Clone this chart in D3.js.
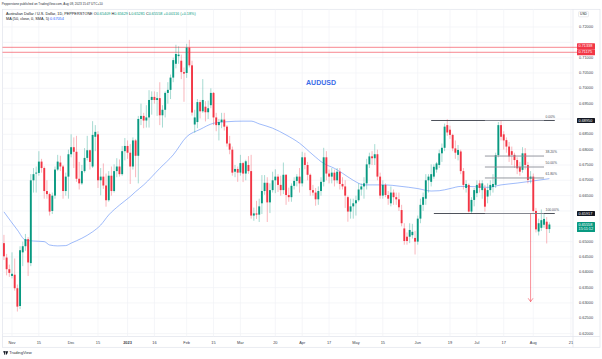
<!DOCTYPE html>
<html><head><meta charset="utf-8">
<script src="https://cdn.jsdelivr.net/npm/d3@7/dist/d3.min.js"></script>
<style>html,body{margin:0;padding:0;background:#fff;overflow:hidden}svg{display:block}</style>
</head><body>
<svg id="chart" width="602" height="359"></svg>
<script>
// ---------- DATA ----------
const startDate = "2022-10-27";
const endAxisDate = "2023-08-23"; // exclusive
const holidays = ["2022-12-26"];
const opens = [0.6495,0.6448,0.6410,0.6388,0.6392,0.6348,0.6290,0.6465,0.6485,0.6508,
0.6430,0.6700,0.6722,0.6724,0.6761,0.6740,0.6665,0.6655,0.6600,0.6650,
0.6735,0.6758,0.6745,0.6665,0.6712,0.6785,0.6808,0.6793,0.6705,0.6690,
0.6730,0.6773,0.6798,0.6745,0.6842,0.6850,0.6700,0.6712,0.6683,0.6635,
0.6715,0.6665,0.6730,0.6745,0.6720,0.6795,0.6812,0.6790,0.6745,0.6830,
0.6780,0.6900,0.6910,0.6895,0.6905,0.6962,0.6972,0.6962,0.6968,0.6912,
0.6930,0.6985,0.6995,0.7035,0.7080,0.7105,0.7090,0.7053,0.7050,0.7133,
0.7075,0.6882,0.6890,0.6955,0.6925,0.6940,0.6922,0.6945,0.6985,0.6905,
0.6880,0.6890,0.6898,0.6875,0.6820,0.6800,0.6728,0.6737,0.6725,0.6756,
0.6722,0.6750,0.6730,0.6585,0.6592,0.6588,0.6625,0.6665,0.6692,0.6628,
0.6668,0.6700,0.6712,0.6685,0.6668,0.6718,0.6652,0.6645,0.6682,0.6698,
0.6712,0.6690,0.6775,0.6750,0.6718,0.6668,0.6660,0.6638,0.6665,0.6695,
0.6775,0.6722,0.6712,0.6725,0.6700,0.6728,0.6688,0.6680,0.6645,0.6598,
0.6615,0.6625,0.6635,0.6670,0.6680,0.6690,0.6752,0.6778,0.6772,0.6785,
0.6712,0.6650,0.6685,0.6652,0.6625,0.6660,0.6645,0.6638,0.6603,0.6543,
0.6516,0.6516,0.6521,0.6512,0.6500,0.6575,0.6620,0.6640,0.6700,0.6695,
0.6712,0.6735,0.6750,0.6788,0.6806,0.6880,0.6865,0.6848,0.6804,0.6783,
0.6794,0.6730,0.6675,0.6685,0.6598,0.6636,0.6658,0.6690,0.6668,0.6674,
0.6647,0.6668,0.6678,0.6685,0.6782,0.6880,0.6850,0.6831,0.6810,0.6795,
0.6783,0.6766,0.6744,0.6734,0.6788,0.6750,0.6705,0.6712,0.6600,0.6533,
0.6545,0.6555,0.6565,0.65409];
const highs = [0.6522,0.6460,0.6425,0.6465,0.6445,0.6360,0.6485,0.6500,0.6525,0.6515,
0.6720,0.6740,0.6745,0.6795,0.6770,0.6745,0.6700,0.6660,0.6660,0.6745,
0.6783,0.6780,0.6750,0.6725,0.6800,0.6850,0.6840,0.6845,0.6760,0.6750,
0.6805,0.6845,0.6800,0.6893,0.6880,0.6860,0.6740,0.6755,0.6722,0.6730,
0.6745,0.6752,0.6772,0.6768,0.6812,0.6838,0.6830,0.6818,0.6840,0.6835,
0.6910,0.6950,0.6920,0.6945,0.6994,0.6990,0.6990,0.6988,0.7020,0.6945,
0.6990,0.7020,0.7045,0.7100,0.7142,0.7137,0.7110,0.7068,0.7145,0.7158,
0.7090,0.6930,0.6965,0.6962,0.7030,0.6958,0.6960,0.7000,0.6988,0.6920,
0.6900,0.6920,0.6920,0.6880,0.6845,0.6810,0.6750,0.6745,0.6783,0.6760,
0.6767,0.6779,0.6783,0.6611,0.6633,0.6640,0.6717,0.6717,0.6710,0.6690,
0.6728,0.6736,0.6720,0.6715,0.6758,0.6720,0.6676,0.6690,0.6710,0.6720,
0.6740,0.6793,0.6790,0.6760,0.6722,0.6685,0.6675,0.6680,0.6710,0.6806,
0.6795,0.6735,0.6740,0.6735,0.6740,0.6740,0.6710,0.6700,0.6650,0.6640,
0.6640,0.6650,0.6690,0.6690,0.6710,0.6770,0.6790,0.6795,0.6818,0.6800,
0.6725,0.6700,0.6690,0.6665,0.6680,0.6670,0.6660,0.6660,0.6620,0.6560,
0.6530,0.6560,0.6558,0.6535,0.6585,0.6640,0.6660,0.6720,0.6720,0.6752,
0.6752,0.6760,0.6800,0.6820,0.6885,0.6899,0.6878,0.6852,0.6830,0.6815,
0.6800,0.6740,0.6700,0.6690,0.6645,0.6675,0.6700,0.6700,0.6700,0.6685,
0.6690,0.6700,0.6720,0.6790,0.6890,0.6895,0.6860,0.6840,0.6825,0.6810,
0.6790,0.6775,0.6760,0.6808,0.6805,0.6760,0.6730,0.6722,0.6610,0.6575,
0.6605,0.6590,0.6580,0.65629];
const lows = [0.6440,0.6390,0.6385,0.6380,0.6340,0.6272,0.6280,0.6420,0.6470,0.6388,
0.6420,0.6660,0.6660,0.6715,0.6725,0.6640,0.6640,0.6585,0.6590,0.6640,
0.6730,0.6730,0.6640,0.6650,0.6640,0.6775,0.6740,0.6695,0.6670,0.6685,
0.6725,0.6765,0.6735,0.6740,0.6795,0.6675,0.6651,0.6672,0.6614,0.6630,
0.6650,0.6660,0.6710,0.6712,0.6715,0.6765,0.6770,0.6688,0.6735,0.6710,
0.6690,0.6880,0.6870,0.6872,0.6872,0.6914,0.6950,0.6910,0.6880,0.6872,
0.6905,0.6950,0.6965,0.7020,0.7065,0.7080,0.7030,0.6956,0.7034,0.7068,
0.6911,0.6855,0.6870,0.6902,0.6920,0.6892,0.6900,0.6935,0.6880,0.6860,
0.6830,0.6870,0.6862,0.6810,0.6785,0.6715,0.6710,0.6695,0.6715,0.6694,
0.6700,0.6721,0.6575,0.6568,0.6574,0.6564,0.6590,0.6653,0.6564,0.6593,
0.6660,0.6658,0.6662,0.6650,0.6655,0.6620,0.6630,0.6630,0.6670,0.6680,
0.6660,0.6680,0.6736,0.6700,0.6650,0.6650,0.6617,0.6620,0.6650,0.6680,
0.6700,0.6690,0.6690,0.6680,0.6690,0.6670,0.6670,0.6610,0.6565,0.6575,
0.6575,0.6585,0.6630,0.6650,0.6640,0.6670,0.6740,0.6750,0.6750,0.6700,
0.6640,0.6640,0.6645,0.6620,0.6615,0.6620,0.6620,0.6600,0.6550,0.6490,
0.6490,0.6495,0.6510,0.6458,0.6490,0.6560,0.6600,0.6620,0.6660,0.6680,
0.6705,0.6725,0.6740,0.6760,0.6795,0.6845,0.6835,0.6795,0.6770,0.6765,
0.6720,0.6670,0.6660,0.6595,0.6590,0.6615,0.6645,0.6660,0.6640,0.6598,
0.6625,0.6650,0.6660,0.6675,0.6775,0.6830,0.6800,0.6790,0.6760,0.6750,
0.6740,0.6720,0.6715,0.6725,0.6735,0.6690,0.6690,0.6595,0.6530,0.6520,
0.6535,0.6545,0.6494,0.65281];
const closes = [0.6452,0.6410,0.6398,0.6395,0.6348,0.6288,0.6472,0.6485,0.6508,0.6432,
0.6700,0.6720,0.6725,0.6761,0.6740,0.6665,0.6655,0.6598,0.6650,0.6735,
0.6761,0.6745,0.6665,0.6712,0.6785,0.6808,0.6793,0.6705,0.6690,0.6730,
0.6773,0.6798,0.6760,0.6848,0.6858,0.6700,0.6712,0.6683,0.6635,0.6715,
0.6665,0.6730,0.6745,0.6720,0.6795,0.6812,0.6790,0.6745,0.6830,0.6780,
0.6900,0.6910,0.6895,0.6905,0.6962,0.6972,0.6962,0.6968,0.6912,0.6930,
0.6985,0.6995,0.7035,0.7092,0.7112,0.7110,0.7053,0.7048,0.7133,0.7075,
0.6921,0.6905,0.6955,0.6925,0.6962,0.6922,0.6935,0.6985,0.6905,0.6880,
0.6890,0.6898,0.6875,0.6820,0.6800,0.6725,0.6737,0.6725,0.6756,0.6722,
0.6762,0.6730,0.6585,0.6592,0.6588,0.6615,0.6665,0.6692,0.6628,0.6668,
0.6700,0.6712,0.6685,0.6668,0.6718,0.6652,0.6645,0.6682,0.6698,0.6712,
0.6690,0.6775,0.6750,0.6718,0.6668,0.6660,0.6638,0.6665,0.6695,0.6775,
0.6722,0.6712,0.6725,0.6700,0.6728,0.6688,0.6680,0.6650,0.6598,0.6615,
0.6625,0.6635,0.6670,0.6680,0.6690,0.6752,0.6778,0.6772,0.6785,0.6712,
0.6650,0.6685,0.6652,0.6640,0.6660,0.6645,0.6638,0.6612,0.6560,0.6502,
0.6502,0.6538,0.6532,0.6500,0.6575,0.6620,0.6645,0.6700,0.6712,0.6720,
0.6744,0.6755,0.6788,0.6806,0.6875,0.6856,0.6848,0.6804,0.6790,0.6799,
0.6730,0.6685,0.6688,0.6598,0.6636,0.6668,0.6685,0.6675,0.6690,0.6614,
0.6668,0.6685,0.6688,0.6782,0.6880,0.6842,0.6830,0.6810,0.6778,0.6783,
0.6766,0.6739,0.6728,0.6788,0.6750,0.6701,0.6712,0.6600,0.6540,0.6560,
0.6570,0.6574,0.6541,0.65558];

const maDates = ["2022-10-27","2022-11-03","2022-11-08","2022-11-11","2022-11-17","2022-11-21","2022-11-24","2022-11-29","2022-12-01","2022-12-07","2022-12-13","2022-12-16","2022-12-21","2022-12-28","2023-01-03","2023-01-05","2023-01-10","2023-01-18","2023-01-25","2023-02-01","2023-02-08","2023-02-15","2023-02-22","2023-03-02","2023-03-07","2023-03-10","2023-03-17","2023-03-24","2023-03-31","2023-04-07","2023-04-13","2023-04-19","2023-04-24","2023-04-28","2023-05-04","2023-05-09","2023-05-16","2023-05-23","2023-06-01","2023-06-08","2023-06-13","2023-06-19","2023-06-23","2023-06-28","2023-07-07","2023-07-14","2023-07-24","2023-08-01","2023-08-09"];
const maValues = [0.6597,0.6538,0.6505,0.6502,0.6500,0.6489,0.6486,0.6487,0.6495,0.6511,0.6532,0.6554,0.6587,0.6619,0.6647,0.6663,0.6685,0.6739,0.6783,0.6842,0.6866,0.6886,0.6891,0.6893,0.6893,0.6884,0.6870,0.6848,0.6821,0.6783,0.6755,0.6739,0.6723,0.6700,0.6685,0.6685,0.6685,0.6681,0.6673,0.6665,0.6666,0.6673,0.6680,0.6680,0.6677,0.6685,0.6691,0.6698,0.67054];

const timeTickDates = ["2022-11-01","2022-11-15","2022-12-01","2022-12-15","2023-01-02","2023-01-16","2023-02-01","2023-02-15","2023-03-01","2023-03-20","2023-04-03","2023-04-17","2023-05-01","2023-05-15","2023-06-01","2023-06-19","2023-07-03","2023-07-17","2023-08-01","2023-08-21"];
const timeTickLabels = ["Nov","15","Dec","15","2023","16","Feb","15","Mar","20","Apr","17","May","15","Jun","19","Jul","17","Aug","21"];
const priceTicks = [0.620,0.625,0.630,0.635,0.640,0.645,0.650,0.655,0.660,0.665,0.670,0.675,0.680,0.685,0.690,0.695,0.700,0.705,0.710,0.715,0.720];

const redLevels = [0.71338, 0.71175];
const darkLevels = [0.68950, 0.65917];
const darkStarts = ["2023-06-08","2023-06-09"];
const darkEnd = "2023-08-11";
const fibLevels = [0, 0.382, 0.5, 0.618, 1];
const fibLabels = ["0.00%","38.20%","50.00%","61.80%","100.00%"];
const fibStart = "2023-07-06", fibEnd = "2023-08-07";
const arrowDate = "2023-07-31", arrowFrom = 0.65917, arrowTo = 0.63041;
const noteText = "AUDUSD", noteDate = "2023-04-12", notePrice = 0.7018;
const lastPrice = 0.65558, countdown = "15:11:12";
const headerText = "Pepperstone published on TradingView.com, Aug 09, 2023 15:47 UTC+10";
const symbolTitle = "Australian Dollar / U.S. Dollar, 1D, PEPPERSTONE";
const ohlcLetters = ["O","H","L","C"];
const ohlcValues = ["0.65409","0.65629","0.65281","0.65558"];
const changeText = "+0.00116 (+0.18%)";
const maTitle = "MA (50, close, 0, SMA, 5)";
const maLast = "0.67054";

// ---------- LAYOUT ----------
const FONT = "'Liberation Sans', Arial, sans-serif";
const GREEN = "#089981", RED = "#f23645", DARK = "#131722";
const plotL = 2.5, plotR = 573, plotT = 9.3, plotB = 336.5;

const fmt = d3.timeFormat("%Y-%m-%d"), parse = d3.timeParse("%Y-%m-%d");
const days = d3.timeDay.range(parse(startDate), parse(endAxisDate))
  .filter(d => d.getDay() !== 0 && d.getDay() !== 6 && !holidays.includes(fmt(d))).map(fmt);
const step = 2.687;
const x = d3.scalePoint().domain(days).range([3.94, 3.94 + (days.length - 1) * step]);
const y = d3.scaleLinear().domain([0.62, 0.72]).range([333.6, 27]);

const candles = opens.map((o, i) => ({date: days[i], o, h: highs[i], l: lows[i], c: closes[i]}));

const svg = d3.select("#chart").attr("font-family", FONT);
svg.append("rect").attr("width", 602).attr("height", 359).attr("fill", "#fff");

// frame
const frame = svg.append("g").attr("stroke", "#e0e3eb").attr("stroke-width", 0.7).attr("fill", "none");
frame.append("rect").attr("x", plotL).attr("y", plotT).attr("width", 600 - plotL).attr("height", 347.3 - plotT);
frame.append("line").attr("x1", plotR).attr("x2", plotR).attr("y1", plotT).attr("y2", 347.3);
frame.append("line").attr("x1", plotL).attr("x2", 600).attr("y1", plotB).attr("y2", plotB);

// grid
const grid = svg.append("g").attr("stroke", "#f0f2f6").attr("stroke-width", 0.7);
grid.selectAll("line.v").data(timeTickDates).join("line")
  .attr("x1", d => x(d)).attr("x2", d => x(d)).attr("y1", plotT).attr("y2", plotB);
grid.selectAll("line.h").data(priceTicks).join("line")
  .attr("x1", plotL).attr("x2", plotR).attr("y1", d => y(d)).attr("y2", d => y(d));

// red horizontal lines (run through to their axis labels)
svg.append("g").selectAll("line").data(redLevels).join("line")
  .attr("x1", plotL).attr("x2", 577).attr("y1", d => y(d)).attr("y2", d => y(d))
  .attr("stroke", RED).attr("stroke-opacity", 0.75).attr("stroke-width", 0.8);

const plot = svg.append("g");
svg.append("clipPath").attr("id", "clip").append("rect")
  .attr("x", plotL).attr("y", plotT).attr("width", plotR - plotL).attr("height", plotB - plotT);
plot.attr("clip-path", "url(#clip)");

// MA line
const maLine = d3.line().x(d => x(d[0])).y(d => y(d[1])).curve(d3.curveMonotoneX);
plot.append("path").datum(maDates.map((d, i) => [d, maValues[i]]))
  .attr("d", maLine).attr("fill", "none").attr("stroke", "#5b8af6").attr("stroke-opacity", 0.65).attr("stroke-width", 0.9);

// candles
const cg = plot.append("g");
cg.selectAll("line.wick").data(candles).join("line")
  .attr("x1", d => x(d.date)).attr("x2", d => x(d.date))
  .attr("y1", d => y(d.h)).attr("y2", d => y(d.l))
  .attr("stroke", d => d.c >= d.o ? GREEN : RED).attr("stroke-opacity", 0.4).attr("stroke-width", 0.9);
cg.selectAll("rect.body").data(candles).join("rect")
  .attr("x", d => x(d.date) - 0.95).attr("width", 1.9)
  .attr("y", d => y(Math.max(d.o, d.c)))
  .attr("height", d => Math.max(0.7, Math.abs(y(d.o) - y(d.c))))
  .attr("fill", d => d.c >= d.o ? GREEN : RED);

// dark horizontal lines (0% / 100%)
plot.selectAll("line.dark").data(darkLevels).join("line")
  .attr("x1", (d, i) => x(darkStarts[i])).attr("x2", x(darkEnd))
  .attr("y1", d => y(d)).attr("y2", d => y(d))
  .attr("stroke", "#3a3e48").attr("stroke-width", 0.9);

// fib retracement
const fibTop = darkLevels[0], fibBot = darkLevels[1];
const fibPrice = f => fibTop - f * (fibTop - fibBot);
plot.selectAll("line.fib").data(fibLevels).join("line")
  .attr("x1", x(fibStart)).attr("x2", x(fibEnd))
  .attr("y1", d => y(fibPrice(d))).attr("y2", d => y(fibPrice(d)))
  .attr("stroke", "#8a8d96").attr("stroke-width", 0.9);
svg.selectAll("text.fib").data(fibLevels).join("text")
  .attr("x", x(fibEnd) + 1.5).attr("y", d => y(fibPrice(d)) - 2.6)
  .attr("font-size", 3.4).attr("fill", "#4a4e59").text((d, i) => fibLabels[i]);

// arrow
const ax = x(arrowDate), ay1 = y(arrowFrom), ay2 = y(arrowTo);
const ag = plot.append("g").attr("stroke", RED).attr("stroke-opacity", 0.7).attr("stroke-width", 0.8).attr("fill", "none");
ag.append("line").attr("x1", ax).attr("x2", ax).attr("y1", ay1).attr("y2", ay2);
ag.append("path").attr("d", `M${ax - 2.4},${ay2 - 3.4}L${ax},${ay2}L${ax + 2.4},${ay2 - 3.4}`);

// AUDUSD note
svg.append("text").attr("x", x(noteDate)).attr("y", y(notePrice)).attr("text-anchor", "middle")
  .attr("dominant-baseline", "middle").attr("font-size", 7).attr("font-weight", "bold")
  .attr("fill", "#3b6ce8").text(noteText);

// ---------- PRICE AXIS ----------
const special = [];
const redY = redLevels.map(v => y(v));
if (redY[1] - redY[0] < 6) { redY[0] = redY[1] - 6; }
redLevels.forEach((v, i) => special.push({y: redY[i], h: 6, bg: RED, lines: [d3.format(".5f")(v)]}));
darkLevels.forEach(v => special.push({y: y(v), h: 5, bg: DARK, lines: [d3.format(".5f")(v)]}));
special.push({y: y(lastPrice) + 2.5, h: 10, bg: GREEN, lines: [d3.format(".5f")(lastPrice), countdown]});

const axisG = svg.append("g").attr("font-size", 3.9).attr("fill", "#3c404b");
axisG.selectAll("text").data(priceTicks.filter(p => !special.some(s => Math.abs(s.y - y(p)) < s.h / 2 + 2.2)))
  .join("text").attr("x", 579).attr("y", d => y(d)).attr("dominant-baseline", "middle")
  .text(d => d3.format(".5f")(d));

const sg = svg.append("g");
special.forEach(s => {
  sg.append("rect").attr("x", 577).attr("y", s.y - s.h / 2).attr("width", 18).attr("height", s.h)
    .attr("fill", s.bg).attr("rx", 0.6);
  s.lines.forEach((t, k) => {
    sg.append("text").attr("x", 578.6).attr("y", s.y - s.h / 2 + (s.lines.length === 1 ? s.h / 2 : 2.7 + k * 4.6))
      .attr("dominant-baseline", "middle").attr("font-size", 3.8).attr("fill", "#fff").text(t);
  });
});
svg.append("rect").attr("x", 578.5).attr("y", 11.6).attr("width", 10).attr("height", 5.2)
  .attr("fill", "#fff").attr("stroke", "#d6d8de").attr("stroke-width", 0.5).attr("rx", 0.8);
svg.append("text").attr("x", 583.5).attr("y", 14.3).attr("text-anchor", "middle").attr("dominant-baseline", "middle")
  .attr("font-size", 3.3).attr("fill", DARK).text("USD");

// ---------- TIME AXIS ----------
svg.append("g").selectAll("text").data(timeTickDates).join("text")
  .attr("x", d => x(d)).attr("y", 342.8).attr("text-anchor", "middle").attr("dominant-baseline", "middle")
  .attr("font-size", 3.9).attr("fill", "#3c404b")
  .attr("font-weight", (d, i) => /^\d{4}$/.test(timeTickLabels[i]) ? "bold" : "normal")
  .text((d, i) => timeTickLabels[i]);

// ---------- HEADER / LEGEND ----------
function fitSize(text, target) {
  const base = 40;
  const t = svg.append("text").attr("font-size", base).text(text);
  const w = t.node().getComputedTextLength(); t.remove();
  return base * target / w;
}
const hfs = fitSize(headerText, 101);
svg.append("text").attr("x", 1.8).attr("y", 4.4).attr("dominant-baseline", "middle")
  .attr("font-size", hfs).attr("fill", "#2a2e39").text(headerText);

const lfs = fitSize(symbolTitle, 87);
const leg = svg.append("text").attr("x", 6).attr("y", 13.7).attr("dominant-baseline", "middle")
  .attr("font-size", lfs).attr("fill", DARK);
leg.append("tspan").text(symbolTitle + " ");
ohlcLetters.forEach((l, i) => {
  leg.append("tspan").attr("fill", DARK).text((i ? " " : "") + l);
  leg.append("tspan").attr("fill", GREEN).text(ohlcValues[i]);
});
leg.append("tspan").attr("fill", GREEN).text(" " + changeText);

const ma = svg.append("text").attr("x", 6).attr("y", 19.3).attr("dominant-baseline", "middle")
  .attr("font-size", lfs).attr("fill", DARK);
ma.append("tspan").text(maTitle + " ");
ma.append("tspan").attr("fill", "#2962ff").text(maLast);

// ---------- FOOTER ----------
const logo = svg.append("g").attr("fill", DARK);
logo.append("rect").attr("x", 3.2).attr("y", 351.3).attr("width", 2.6).attr("height", 1.1);
logo.append("rect").attr("x", 4.1).attr("y", 351.3).attr("width", 1.1).attr("height", 3.3);
logo.append("path").attr("d", "M6.0,351.3 L8.2,351.3 L6.9,354.6 L5.9,354.6 Z");
svg.append("text").attr("x", 9.2).attr("y", 353).attr("dominant-baseline", "middle")
  .attr("font-size", 4.1).attr("fill", "#2a2e39").text("TradingView");
</script></body></html>
